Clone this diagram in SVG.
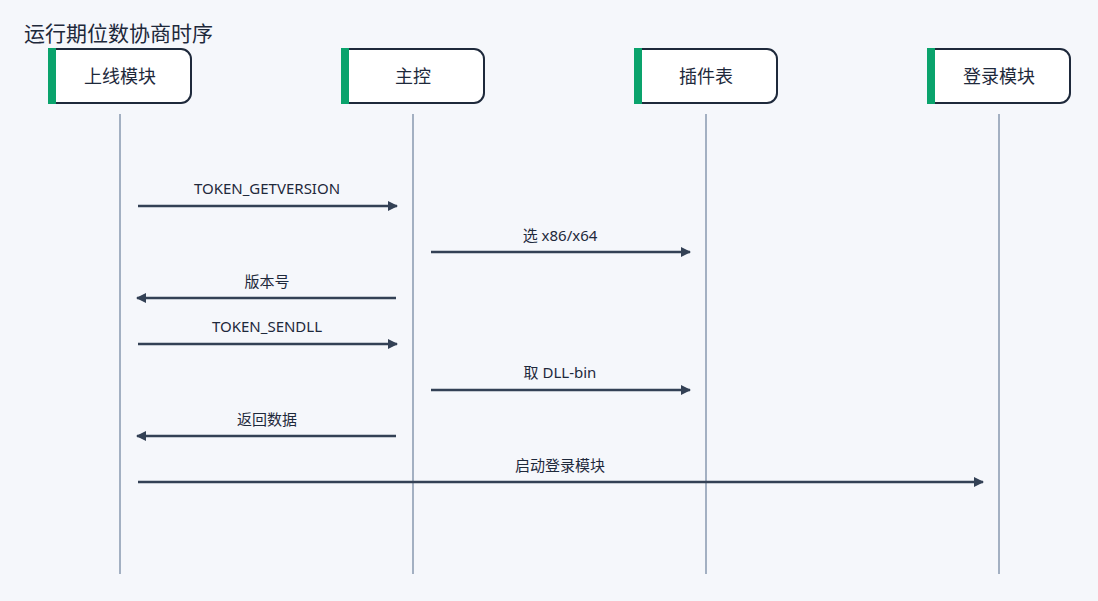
<svg xmlns="http://www.w3.org/2000/svg" width="1098" height="601" viewBox="0 0 1098 601">
<style>
.box{fill:#fff;stroke:#1e293b;stroke-width:2}
.bar{fill:#0aa36c}
.nt{font-family:"Noto Sans CJK SC","Noto Sans",sans-serif;font-size:18px;fill:#1e293b;text-anchor:middle}
.life{stroke:#a3b0c2;stroke-width:2}
.msg{stroke:#334155;stroke-width:2.5;fill:none;marker-end:url(#ah)}
.ml{font-family:"Noto Sans","Noto Sans CJK SC",sans-serif;font-size:15px;fill:#1e293b;text-anchor:middle}
</style>
<defs><marker id="ah" viewBox="0 0 10 10" refX="9" refY="5" markerWidth="4" markerHeight="4" orient="auto"><path d="M0,0L10,5L0,10z" fill="#334155"/></marker></defs>
<rect width="1098" height="601" fill="#f5f7fb"/>
<text x="24" y="41" font-family="'Noto Sans CJK SC','Noto Sans',sans-serif" font-size="21" fill="#1e293b">运行期位数协商时序</text>
<g id="lifelines">
<line class="life" x1="120" y1="114" x2="120" y2="574"/>
<line class="life" x1="413" y1="114" x2="413" y2="574"/>
<line class="life" x1="706" y1="114" x2="706" y2="574"/>
<line class="life" x1="999" y1="114" x2="999" y2="574"/>
</g>
<g id="n1"><path class="box" d="M49,49H181a10,10 0 0 1 10,10V93a10,10 0 0 1-10,10H49z"/><rect class="bar" x="48" y="48" width="8" height="56"/><text class="nt" x="120" y="83">上线模块</text></g>
<g id="n2"><path class="box" d="M342,49H474a10,10 0 0 1 10,10V93a10,10 0 0 1-10,10H342z"/><rect class="bar" x="341" y="48" width="8" height="56"/><text class="nt" x="413" y="83">主控</text></g>
<g id="n3"><path class="box" d="M635,49H767a10,10 0 0 1 10,10V93a10,10 0 0 1-10,10H635z"/><rect class="bar" x="634" y="48" width="8" height="56"/><text class="nt" x="706" y="83">插件表</text></g>
<g id="n4"><path class="box" d="M928,49H1060a10,10 0 0 1 10,10V93a10,10 0 0 1-10,10H928z"/><rect class="bar" x="927" y="48" width="8" height="56"/><text class="nt" x="999" y="83">登录模块</text></g>
<g id="connectors">
<line class="msg" x1="138" y1="206" x2="397" y2="206"/><text class="ml" x="267" y="194">TOKEN_GETVERSION</text>
<line class="msg" x1="431" y1="252" x2="690" y2="252"/><text class="ml" x="560" y="241">选 x86/x64</text>
<line class="msg" x1="396" y1="298" x2="137" y2="298"/><text class="ml" x="267" y="287">版本号</text>
<line class="msg" x1="138" y1="344" x2="397" y2="344"/><text class="ml" x="267" y="332">TOKEN_SENDLL</text>
<line class="msg" x1="431" y1="390" x2="690" y2="390"/><text class="ml" x="560" y="378">取 DLL-bin</text>
<line class="msg" x1="396" y1="436" x2="137" y2="436"/><text class="ml" x="267" y="425">返回数据</text>
<line class="msg" x1="138" y1="482" x2="983" y2="482"/><text class="ml" x="560" y="471">启动登录模块</text>
</g>
</svg>
